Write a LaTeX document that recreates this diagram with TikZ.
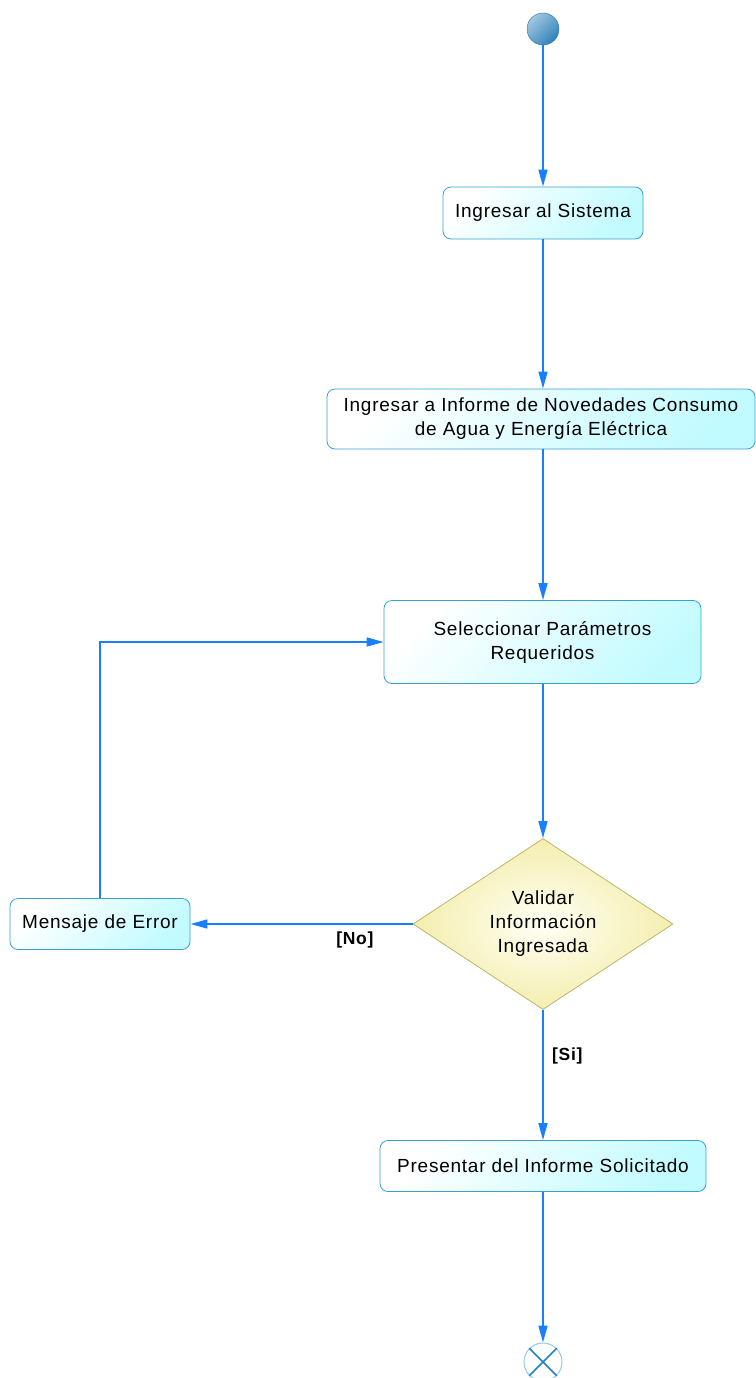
\documentclass[tikz,border=0pt]{standalone}
\usepackage{fontspec}
\setmainfont[LetterSpace=4]{Liberation Sans}
\usetikzlibrary{shapes.geometric,arrows.meta}
\definecolor{flujo}{HTML}{1A7FFF}
\definecolor{borde}{HTML}{3B9FCF}
\definecolor{celeste}{HTML}{C2FBFF}
\definecolor{amarillo}{HTML}{F4EEAE}
\definecolor{oliva}{HTML}{BDB56A}
\definecolor{bola}{HTML}{2F82BA}
\definecolor{cruz}{HTML}{2282C4}
\tikzset{
  actividad/.style = {shape=rectangle, rounded corners=8pt,
                      draw=borde, line width=0.8pt, align=center,
                      top color=white,
                      bottom color=celeste, shading angle=45},
  decision/.style  = {shape=diamond, draw=oliva, line width=0.8pt,
                      align=center, inner sep=0pt, aspect=1.52,
                      minimum width=260pt, minimum height=171pt,
                      inner color=yellow!4,
                      outer color=amarillo},
  inicio/.style    = {circle, draw=bola!85!black, inner sep=0pt,
                      minimum size=32pt,
                      top color=bola!45!white,
                      bottom color=bola, shading angle=45},
  final/.style     = {circle, draw=borde!55, line width=1pt,
                      inner sep=0pt, minimum size=38pt},
  flecha/.style    = {draw=flujo, line width=1.6pt,
                      -{Triangle[length=17pt,width=9pt]}},
  guarda/.style    = {font=\fontsize{17.5}{20}\selectfont\bfseries}
}

\begin{document}
\begin{tikzpicture}
  [
    x = 1pt, y = -1pt,
    every node/.style = {font=\fontsize{19}{24}\selectfont}
  ]
  \useasboundingbox (0,0) rectangle (755,1378);

  % actividades
  \node [inicio] (ini) at (543,29) {};
  \node [actividad, minimum width=200pt, minimum height=52pt]
    (sistema) at (543,213) {Ingresar al Sistema};
  \node [actividad, minimum width=428pt, minimum height=60pt]
    (informe) at (541,419)
    {Ingresar a Informe de Novedades Consumo\\de Agua y Energía Eléctrica};
  \node [actividad, minimum width=317pt, minimum height=83pt]
    (parametros) at (542.5,642) {Seleccionar Parámetros\\Requeridos};
  \node [decision] (validar) at (543,924)
    {Validar\\Información\\Ingresada};
  \node [actividad, minimum width=180pt, minimum height=51pt]
    (error) at (100,924) {Mensaje de Error};
  \node [actividad, minimum width=326pt, minimum height=51pt]
    (presentar) at (543,1166) {Presentar del Informe Solicitado};
  \node [final] (fin) at (543,1362) {};
  \draw [cruz, line width=1.6pt]
    (fin.north west) -- (fin.south east)
    (fin.north east) -- (fin.south west);

  % flujo
  \draw [flecha] (ini) -- (sistema);
  \draw [flecha] (sistema) -- (informe.north -| sistema);
  \draw [flecha] (informe.south -| sistema) -- (parametros.north -| sistema);
  \draw [flecha] (parametros.south -| validar) -- (validar);
  \draw [flecha] (validar) -- (error)
    node [guarda, pos=0.26, below=4pt] {[No]};
  \draw [flecha] (error) |- (parametros);
  \draw [flecha] (validar) -- (presentar)
    node [guarda, pos=0.35, right=5pt] {[Si]};
  \draw [flecha] (presentar) -- (fin);
\end{tikzpicture}
\end{document}
